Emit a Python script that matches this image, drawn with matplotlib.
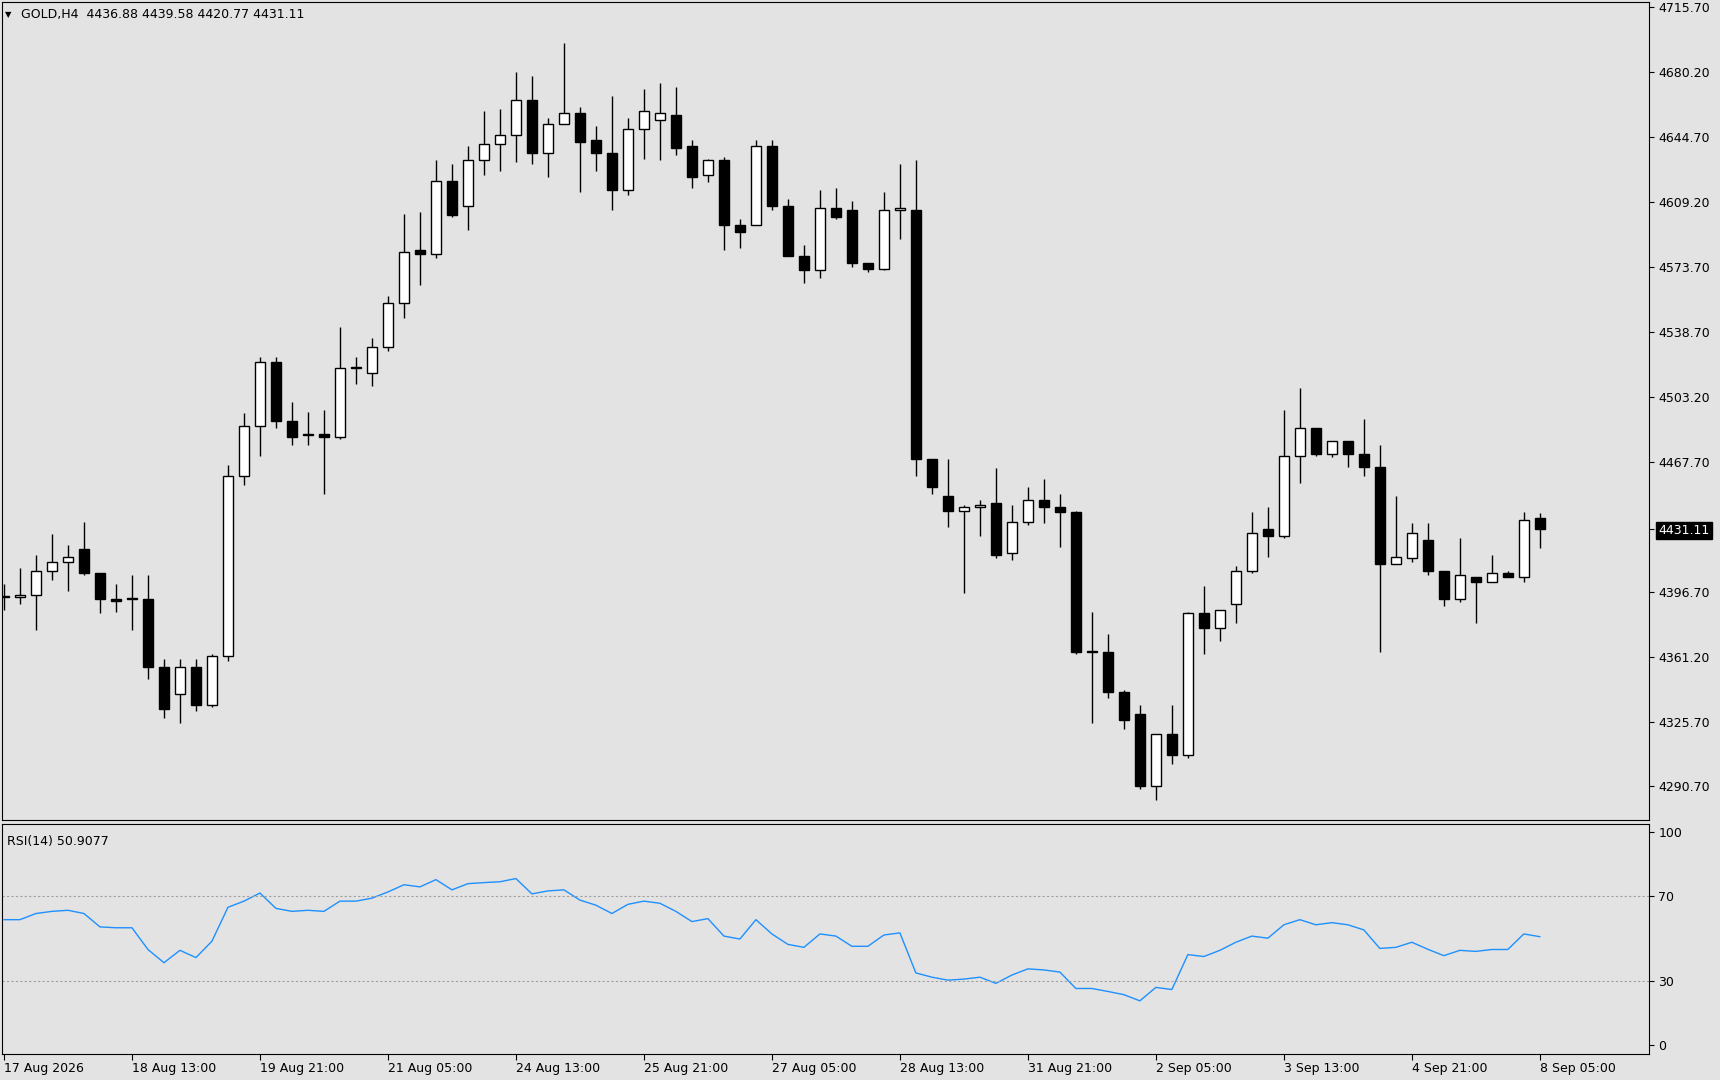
import numpy as np
import matplotlib
matplotlib.use("Agg")
import matplotlib.pyplot as plt
from matplotlib.patches import Rectangle

# OHLC (GOLD, H4)
opens = [4394, 4394, 4395, 4408, 4413, 4420, 4407, 4393, 4393, 4393, 4356, 4341, 4356, 4335, 4362, 4460,
         4487, 4522, 4490, 4482, 4483, 4481, 4519, 4516, 4530, 4554, 4583, 4581, 4621, 4607, 4632, 4641,
         4646, 4665, 4636, 4652, 4658, 4643, 4636, 4616, 4649, 4654, 4657, 4640, 4624, 4632, 4597, 4597,
         4640, 4607, 4580, 4572, 4606, 4605, 4576, 4573, 4605, 4605, 4469, 4449, 4441, 4443, 4445, 4418,
         4435, 4447, 4443, 4440, 4364, 4364, 4342, 4330, 4291, 4319, 4308, 4385, 4377, 4390, 4408, 4431,
         4427, 4471, 4486, 4472, 4479, 4472, 4465, 4412, 4415, 4425, 4408, 4393, 4405, 4402, 4407, 4405,
         4436.88]
closes = [4394, 4395, 4408, 4413, 4416, 4407, 4393, 4392, 4393, 4356, 4333, 4356, 4335, 4362, 4460, 4487,
          4522, 4490, 4481, 4482, 4481, 4519, 4519, 4530, 4554, 4582, 4581, 4621, 4602, 4632, 4641, 4646,
          4665, 4636, 4652, 4658, 4642, 4636, 4616, 4649, 4659, 4658, 4639, 4623, 4632, 4597, 4593, 4640,
          4607, 4580, 4572, 4606, 4601, 4576, 4573, 4605, 4606, 4469, 4454, 4441, 4443, 4444, 4417, 4435,
          4447, 4443, 4440, 4364, 4364, 4342, 4327, 4291, 4319, 4308, 4385, 4377, 4387, 4408, 4429, 4427,
          4471, 4486, 4472, 4479, 4472, 4465, 4412, 4416, 4429, 4408, 4393, 4406, 4402, 4407, 4405, 4436,
          4431.11]
highs = [4401, 4410, 4417, 4428, 4422, 4435, 4407, 4401, 4406, 4406, 4360, 4360, 4360, 4363, 4466, 4494,
         4525, 4525, 4500, 4495, 4496, 4541, 4525, 4535, 4558, 4603, 4604, 4632, 4630, 4640, 4659, 4660,
         4680, 4678, 4655, 4696, 4661, 4651, 4667, 4655, 4671, 4674, 4672, 4643, 4633, 4634, 4600, 4643,
         4643, 4611, 4586, 4616, 4617, 4610, 4575, 4615, 4630, 4632, 4469, 4469, 4444, 4447, 4464, 4444,
         4454, 4458, 4450, 4441, 4386, 4374, 4343, 4335, 4296, 4335, 4386, 4400, 4382, 4411, 4440, 4443,
         4496, 4508, 4475, 4474, 4477, 4491, 4477, 4449, 4434, 4434, 4408, 4426, 4405, 4417, 4408, 4440,
         4439.58]
lows = [4387, 4390, 4376, 4403, 4397, 4406, 4385, 4386, 4376, 4349, 4328, 4325, 4332, 4334, 4359, 4455,
        4471, 4486, 4477, 4477, 4450, 4480, 4510, 4509, 4528, 4546, 4564, 4579, 4601, 4594, 4624, 4626,
        4631, 4630, 4623, 4658, 4615, 4626, 4605, 4613, 4633, 4632, 4635, 4617, 4620, 4583, 4584, 4597,
        4605, 4580, 4565, 4568, 4600, 4574, 4571, 4572, 4589, 4460, 4450, 4432, 4396, 4427, 4415, 4414,
        4433, 4434, 4421, 4363, 4325, 4339, 4322, 4289, 4283, 4303, 4306, 4363, 4370, 4380, 4407, 4416,
        4426, 4456, 4471, 4470, 4465, 4460, 4364, 4415, 4413, 4406, 4389, 4391, 4380, 4405, 4405, 4402,
        4420.77]

rsi = [58.9, 58.9, 61.8, 62.8, 63.3, 61.8, 55.5, 55.1, 55.1, 44.9, 38.7, 44.5, 41.1, 48.8, 64.7, 67.6,
       71.4, 64.2, 62.8, 63.3, 62.8, 67.6, 67.6, 69.0, 71.9, 75.3, 74.3, 77.7, 72.9, 75.8, 76.3, 76.7,
       78.2, 71.0, 72.4, 72.9, 68.1, 65.7, 61.8, 66.1, 67.6, 66.6, 62.8, 58.0, 59.4, 51.2, 49.8, 58.9,
       52.2, 47.3, 45.9, 52.2, 51.2, 46.4, 46.4, 51.7, 52.7, 33.9, 31.9, 30.5, 31.0, 31.9, 29.0, 32.9,
       35.8, 35.3, 34.3, 26.6, 26.6, 25.2, 23.7, 20.8, 27.1, 26.1, 42.5, 41.6, 44.5, 48.3, 51.2, 50.2,
       56.5, 58.9, 56.5, 57.5, 56.5, 54.1, 45.4, 45.9, 48.3, 45.0, 42.0, 44.5, 44.0, 44.9, 44.9, 52.2,
       50.91]

date_labels = ["17 Aug 2026", "18 Aug 13:00", "19 Aug 21:00", "21 Aug 05:00", "24 Aug 13:00",
               "25 Aug 21:00", "27 Aug 05:00", "28 Aug 13:00", "31 Aug 21:00", "2 Sep 05:00",
               "3 Sep 13:00", "4 Sep 21:00", "8 Sep 05:00"]
price_ticks = [4290.70, 4325.70, 4361.20, 4396.70, 4431.11, 4467.70, 4503.20, 4538.70, 4573.70,
               4609.20, 4644.70, 4680.20, 4715.70]

bg = "#e3e3e3"
fig = plt.figure(figsize=(17.2, 10.8), dpi=100, facecolor=bg)
ax = fig.add_axes([0.001, 0.2406, 0.9575, 0.758], facecolor=bg)
ax2 = fig.add_axes([0.001, 0.0244, 0.9575, 0.213], facecolor=bg)

w = 0.6
for i in range(len(opens)):
    o, c, h, l = opens[i], closes[i], highs[i], lows[i]
    ax.vlines(i, l, h, color="black", lw=1)
    lo, hi = min(o, c), max(o, c)
    fc = "white" if c > o else "black"
    ax.add_patch(Rectangle((i - w / 2, lo), w, max(hi - lo, 0.6), facecolor=fc,
                           edgecolor="black", lw=1, zorder=3))

xmax = 102.8
ax.set_xlim(-0.14, xmax)
ax.set_ylim(4272.2, 4718.7)
ax.yaxis.tick_right()
ax.set_yticks(price_ticks)
ax.set_yticklabels(["%.2f" % p for p in price_ticks], fontsize=9)
ax.set_xticks([])
for lab in ax.get_yticklabels():
    if lab.get_text() == "4431.11":
        lab.set_color("white")
        lab.set_bbox(dict(facecolor="black", edgecolor="black", pad=1.5))
ax.text(0.012, 0.992, "GOLD,H4  4436.88 4439.58 4420.77 4431.11", transform=ax.transAxes,
        fontsize=9, va="top", ha="left")
ax.text(0.002, 0.99, "\u25bc", transform=ax.transAxes, fontsize=6, va="top", ha="left")

x = np.arange(len(rsi))
ax2.plot(x, rsi, color="#1e90ff", lw=1)
ax2.axhline(70, color="#a0a0a0", lw=0.8, ls=(0, (2, 2)))
ax2.axhline(30, color="#a0a0a0", lw=0.8, ls=(0, (2, 2)))
ax2.set_xlim(-0.14, xmax)
ax2.set_ylim(-4, 104)
ax2.yaxis.tick_right()
ax2.set_yticks([0, 30, 70, 100])
ax2.set_yticklabels(["0", "30", "70", "100"], fontsize=9)
ax2.set_xticks(np.arange(0, len(rsi), 8))
ax2.set_xticklabels(date_labels, fontsize=9, ha="left")
ax2.tick_params(axis="x", length=4, pad=2)
ax2.text(0.003, 0.95, "RSI(14) 50.9077", transform=ax2.transAxes, fontsize=9, va="top", ha="left")

for a in (ax, ax2):
    for s in a.spines.values():
        s.set_color("black")

fig.savefig("out.png", dpi=100, facecolor=bg)
